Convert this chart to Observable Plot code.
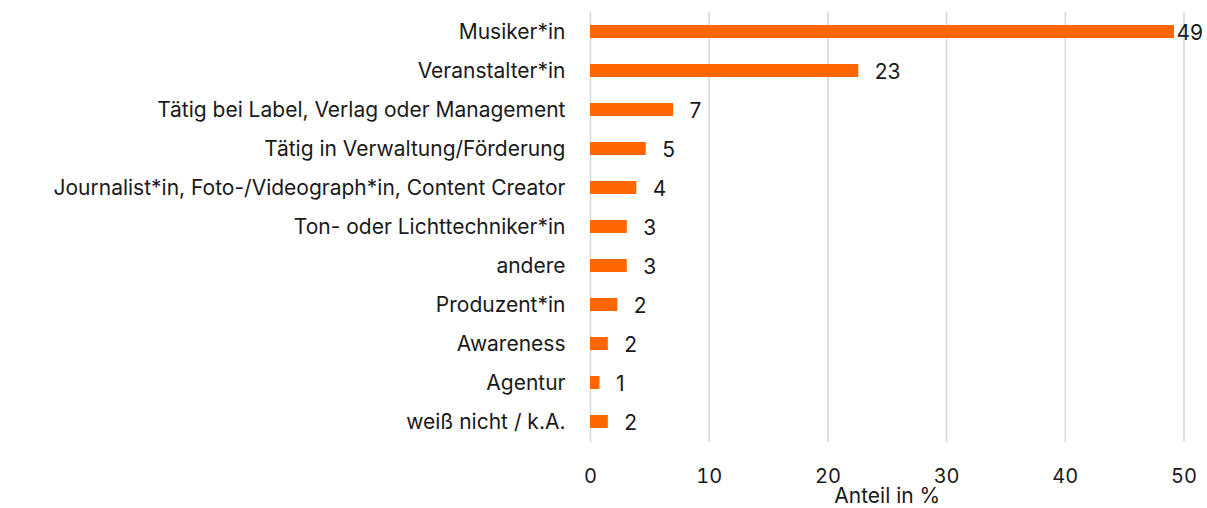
<!DOCTYPE html>
<html>
<head>
<meta charset="utf-8">
<script src="https://cdn.jsdelivr.net/npm/d3@7"></script>
<script src="https://cdn.jsdelivr.net/npm/@observablehq/plot@0.6"></script>
<style>
  html, body { margin: 0; padding: 0; background: #fff; }
  #chart svg { display: block; }
</style>
</head>
<body>
<div id="chart"></div>
<script>
const categories = [
  "Musiker*in",
  "Veranstalter*in",
  "Tätig bei Label, Verlag oder Management",
  "Tätig in Verwaltung/Förderung",
  "Journalist*in, Foto-/Videograph*in, Content Creator",
  "Ton- oder Lichttechniker*in",
  "andere",
  "Produzent*in",
  "Awareness",
  "Agentur",
  "weiß nicht / k.A."
];
const values = [49.2, 22.6, 7.0, 4.7, 3.9, 3.1, 3.1, 2.3, 1.5, 0.8, 1.5];
const valueLabels = ["49", "23", "7", "5", "4", "3", "3", "2", "2", "1", "2"];
const xTicks = [0, 10, 20, 30, 40, 50];
const xLabel = "Anteil in %";

const data = categories.map((c, i) => ({category: c, value: values[i], label: valueLabels[i]}));

const chart = Plot.plot({
  width: 1207,
  height: 508,
  marginLeft: 590,
  marginRight: 23.5,
  marginTop: 12,
  marginBottom: 66,
  style: {fontFamily: "Inter, 'Noto Sans', sans-serif", fontSize: "21px", color: "#1a1a1a", background: "#fff"},
  x: {domain: [0, 50], ticks: xTicks},
  y: {domain: categories, paddingInner: 0.66, paddingOuter: 0.33},
  marks: [
    Plot.gridX(xTicks, {stroke: "#d9d9d9", strokeOpacity: 1, strokeWidth: 1.6}),
    Plot.barX(data, {y: "category", x: "value", fill: "#FF6600"}),
    Plot.text(data, {
      y: "category", x: "value", text: "label",
      textAnchor: "start",
      dx: 16,
      dy: 1,
      fill: "#1a1a1a",
      fontSize: 21,
      filter: d => d.value < 45
    }),
    Plot.text(data, {
      y: "category", x: "value", text: "label",
      textAnchor: "start",
      dx: 2,
      dy: 1,
      fill: "#1a1a1a",
      fontSize: 21,
      filter: d => d.value >= 45
    }),
    Plot.axisY({tickSize: 0, tickPadding: 25, label: null, fontSize: 21}),
    Plot.axisX({tickSize: 0, tickPadding: 26, ticks: xTicks, label: null, fontSize: 20}),
    Plot.axisX({tickSize: 0, ticks: [], label: xLabel, labelAnchor: "center", labelArrow: "none", labelOffset: 60, fontSize: 21})
  ]
});
document.getElementById("chart").appendChild(chart);
</script>
</body>
</html>
